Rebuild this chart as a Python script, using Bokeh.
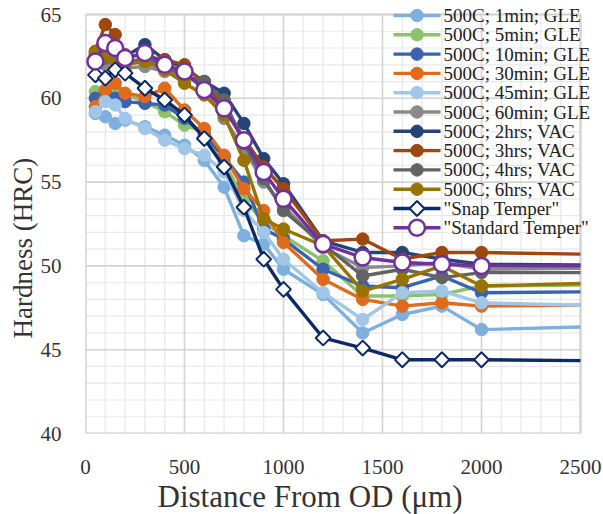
from bokeh.plotting import figure
from bokeh.models import Range1d, FixedTicker, Title
from bokeh.core.properties import value
from bokeh.embed import file_html
from bokeh.resources import INLINE
import math

# Distance from outer diameter (µm); the last position carries the flat tail without a marker
distance = [50, 100, 150, 200, 300, 400, 500, 600, 700, 800, 900, 1000, 1200, 1400, 1600, 1800, 2000, 2500]

gle_1min = [59.1, 58.9, 58.5, 58.7, 58.3, 57.8, 57.2, 56.3, 54.7, 51.8, 51.3, 49.8, 48.3, 46.0, 47.1, 47.6, 46.2, 46.35]
gle_5min = [60.4, 60.2, 60.5, 60.2, 59.8, 59.2, 58.4, 58.0, 56.2, 54.0, 52.6, 51.8, 50.3, 48.2, 48.2, 48.3, 48.8, 48.85]
gle_10min = [60.0, 60.3, 60.0, 59.8, 59.7, 59.6, 58.8, 57.8, 56.5, 55.0, 52.2, 51.6, 49.8, 48.8, 48.7, 49.4, 48.4, 48.45]
gle_30min = [59.5, 60.5, 60.9, 60.3, 60.1, 60.6, 59.3, 58.2, 56.6, 54.6, 53.3, 51.4, 49.2, 48.0, 47.6, 47.8, 47.6, 47.65]
gle_45min = [59.2, 59.8, 59.6, 58.8, 58.2, 57.5, 57.0, 56.6, 55.6, 53.3, 52.0, 50.4, 48.4, 46.8, 48.4, 48.5, 47.8, 47.65]
gle_60min = [62.3, 62.0, 61.9, 61.8, 61.9, 61.6, 61.3, 60.8, 58.8, 57.0, 55.0, 53.6, 51.1, 49.9, 50.0, 50.2, 49.8, 49.85]
vac_2hrs = [62.6, 63.0, 62.7, 62.5, 63.2, 62.3, 61.8, 61.0, 60.3, 58.5, 56.4, 54.9, 51.5, 50.8, 50.8, 50.4, 50.1, 50.05]
vac_3hrs = [62.8, 64.4, 63.8, 62.6, 62.5, 62.3, 62.0, 60.8, 59.6, 57.6, 55.9, 54.6, 51.5, 51.6, 50.4, 50.8, 50.8, 50.7]
vac_4hrs = [62.7, 62.4, 62.3, 62.1, 62.4, 61.9, 61.3, 61.0, 59.9, 57.3, 55.2, 53.3, 51.3, 49.4, 49.8, 49.3, 49.6, 49.6]
vac_6hrs = [62.8, 62.5, 62.3, 62.0, 62.2, 61.7, 60.9, 60.2, 59.0, 56.3, 52.8, 52.2, 51.2, 48.5, 49.2, 50.0, 48.8, 48.95]
snap_temper = [61.4, 61.2, 61.7, 61.5, 60.6, 59.9, 59.0, 57.6, 55.9, 53.5, 50.4, 48.6, 45.7, 45.1, 44.4, 44.4, 44.4, 44.35]
standard_temper = [62.2, 63.3, 63.0, 62.4, 62.7, 62.0, 61.6, 60.5, 59.4, 57.5, 55.6, 54.0, 51.3, 50.5, 50.2, 50.1, 50.0, 50.0]

labels = ["500C; 1min; GLE", "500C; 5min; GLE", "500C; 10min; GLE", "500C; 30min; GLE",
          "500C; 45min; GLE", "500C; 60min; GLE", "500C; 2hrs; VAC", "500C; 3hrs; VAC",
          "500C; 4hrs; VAC", "500C; 6hrs; VAC", "\"Snap Temper\"", "\"Standard Temper\""]
series = [gle_1min, gle_5min, gle_10min, gle_30min, gle_45min, gle_60min,
          vac_2hrs, vac_3hrs, vac_4hrs, vac_6hrs, snap_temper, standard_temper]
colors = ["#7DAFDF", "#8DC26A", "#3A62AD", "#E06A1E", "#A2C6E8", "#8A8A8A",
          "#264478", "#9E480E", "#636363", "#997300", "#0E2A66", "#7030A0"]

# Axis extents and ticks
x_min, x_max = 0, 2500
y_min, y_max = 40, 65
x_ticks = [0, 500, 1000, 1500, 2000, 2500]
y_ticks = [40, 45, 50, 55, 60, 65]
x_minor_step = 100
y_minor_step = 1

SERIF = "Liberation Serif"
TEXT = "#333333"

# Layout in pixels; the drawing frame reaches past the plot box on the top and right
# so that the legend can overhang the box without being clipped
left_pad, top_pad = 85, 14
plot_w, plot_h, extra_w = 495, 419, 23
px_x = plot_w / (x_max - x_min)
px_y = plot_h / (y_max - y_min)

p = figure(width=603, height=514, output_backend="svg", toolbar_location=None,
           x_range=Range1d(x_min, x_max + extra_w / px_x),
           y_range=Range1d(y_min, y_max + top_pad / px_y))
p.frame_width = plot_w + extra_w
p.frame_height = plot_h + top_pad
p.min_border_left = left_pad
p.min_border_right = 0
p.min_border_top = 0
p.min_border_bottom = 81
p.background_fill_color = "white"
p.border_fill_color = "white"
p.outline_line_color = None
p.xgrid.visible = False
p.ygrid.visible = False

p.xaxis.ticker = FixedTicker(ticks=x_ticks)
p.yaxis.ticker = FixedTicker(ticks=y_ticks)
for ax in (p.xaxis, p.yaxis):
    ax.axis_line_color = None
    ax.major_tick_line_color = None
    ax.minor_tick_line_color = None
    ax.major_label_text_font = SERIF
    ax.major_label_text_font_size = "21px"
    ax.major_label_text_color = TEXT
p.xaxis.major_label_standoff = 20
p.yaxis.major_label_standoff = 18

y_title = Title(text="Hardness (HRC)", align="left", offset=95,
                text_font=SERIF, text_font_size="27px", text_font_style="normal",
                text_color=TEXT, standoff=0)
p.add_layout(y_title, "left")

x_title = Title(text="Distance From OD (μm)", align="left", offset=72,
                text_font=SERIF, text_font_size="31px", text_font_style="normal",
                text_color=TEXT, standoff=0)
p.add_layout(x_title, "below")

# Grid confined to the plot box: minor lines, then major lines and the box edges
minor_x = [v for v in range(x_min, x_max + 1, x_minor_step) if v not in x_ticks]
minor_y = [v for v in range(y_min, y_max + 1, y_minor_step) if v not in y_ticks]
p.segment(x0=minor_x, y0=[y_min] * len(minor_x), x1=minor_x, y1=[y_max] * len(minor_x),
          line_color="#E8E8E8", line_width=1.2)
p.segment(x0=[x_min] * len(minor_y), y0=minor_y, x1=[x_max] * len(minor_y), y1=minor_y,
          line_color="#E8E8E8", line_width=1.2)
p.segment(x0=x_ticks, y0=[y_min] * len(x_ticks), x1=x_ticks, y1=[y_max] * len(x_ticks),
          line_color="#D4D4D4", line_width=1.6)
p.segment(x0=[x_min] * len(y_ticks), y0=y_ticks, x1=[x_max] * len(y_ticks), y1=y_ticks,
          line_color="#D4D4D4", line_width=1.6)
p.segment(x0=[x_min, x_max], y0=[y_min, y_min], x1=[x_min, x_max], y1=[y_max, y_max],
          line_color="#D4D4D4", line_width=2.2)
p.segment(x0=[x_min, x_min], y0=[y_min, y_max], x1=[x_max, x_max], y1=[y_min, y_max],
          line_color="#D4D4D4", line_width=2.2)


def marker_style(name, col):
    if name == "\"Snap Temper\"":
        return dict(marker="square", angle=math.pi / 4, size=10.5,
                    fill_color="white", line_color=col, line_width=2)
    if name == "\"Standard Temper\"":
        return dict(marker="circle", size=16, fill_color="white", line_color=col, line_width=2.5)
    return dict(marker="circle", size=12.5, fill_color=col, line_color=col, line_width=1)


for name, ys, col in zip(labels, series, colors):
    p.line(distance, ys, line_color=col, line_width=3.4)
    p.scatter(distance[:-1], ys[:-1], **marker_style(name, col))


# Legend key: rows placed in pixels from the top-left of the canvas, converted to data units
def to_x(px):
    return x_min + (px - left_pad) / px_x


def to_y(px):
    return y_max - (px - top_pad) / px_y


key_left, key_right, key_text = 393, 440, 443
row_first, row_step = 15, 19.3
for i, (name, col) in enumerate(zip(labels, colors)):
    ky = to_y(row_first + i * row_step)
    p.line([to_x(key_left), to_x(key_right)], [ky, ky], line_color=col, line_width=3.4)
    p.scatter([to_x((key_left + key_right) / 2)], [ky], **marker_style(name, col))
    p.text([to_x(key_text)], [ky], text=[name], text_font=value(SERIF),
           text_font_size=value("19px"), text_color="#222222",
           text_baseline="middle", text_align="left")

open("out.html", "w").write(file_html(p, INLINE))
